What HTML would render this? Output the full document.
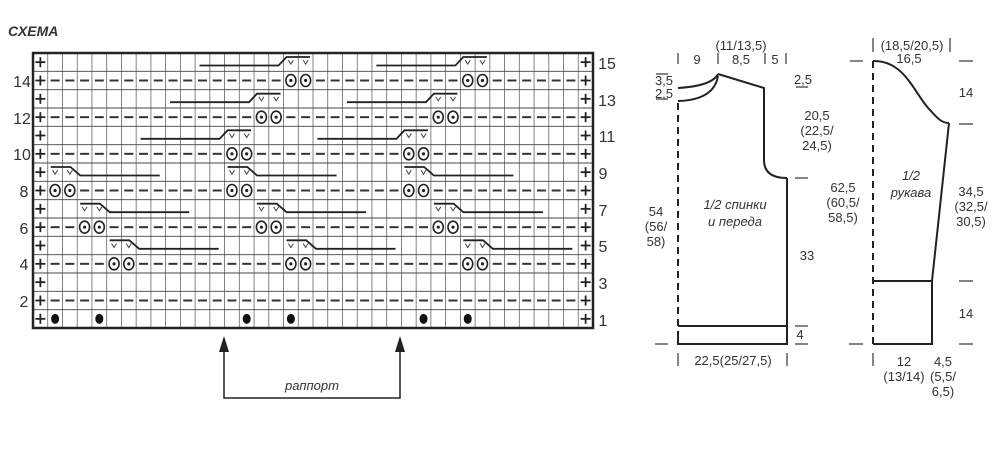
<!DOCTYPE html>
<html><head><meta charset="utf-8"><style>
html,body{margin:0;padding:0;background:#fff;}
body{width:998px;height:445px;overflow:hidden;}
svg text{font-family:"Liberation Sans",sans-serif;fill:#333;}
</style></head><body>
<svg id="s" width="998" height="445" viewBox="0 0 998 445" xmlns="http://www.w3.org/2000/svg">
<g id="chart"></g>
<text x="8" y="36" font-size="14" font-weight="bold" font-style="italic">СХЕМА</text>
<g font-size="16" text-anchor="middle">
<text x="22" y="87">14</text><text x="22" y="124">12</text><text x="22" y="160">10</text>
<text x="24" y="197">8</text><text x="24" y="234">6</text><text x="24" y="270">4</text><text x="24" y="307">2</text>
<text x="607" y="69">15</text><text x="607" y="106">13</text><text x="607" y="142">11</text>
<text x="603" y="179">9</text><text x="603" y="216">7</text><text x="603" y="252">5</text>
<text x="603" y="289">3</text><text x="603" y="326">1</text>
</g>
<!-- rapport arrows -->
<g stroke="#222" stroke-width="1.5" fill="none">
<polyline points="224,346 224,398 400,398 400,346"/>
</g>
<polygon points="224,336 219,352 229,352" fill="#222"/>
<polygon points="400,336 395,352 405,352" fill="#222"/>
<text x="312" y="390" font-size="13" font-style="italic" text-anchor="middle">раппорт</text>

<!-- body piece -->
<g stroke="#222" stroke-width="2" fill="none">
<path d="M678 88 Q712 86 718 74"/>
<path d="M678 101 Q714 100 718 76"/>
<polyline points="718,74 764,88 764,160"/>
<path d="M764 160 Q764 178 787 178"/>
<polyline points="787,178 787,344 678,344 678,338"/>
<line x1="678" y1="326" x2="787" y2="326"/>
</g>
<line x1="678" y1="103" x2="678" y2="344" stroke="#222" stroke-width="2" stroke-dasharray="7,5"/>
<g stroke="#333" stroke-width="1.2">
<line x1="678" y1="53" x2="678" y2="64"/><line x1="718" y1="53" x2="718" y2="64"/>
<line x1="765" y1="53" x2="765" y2="64"/><line x1="786" y1="53" x2="786" y2="64"/>
<line x1="795" y1="178" x2="808" y2="178"/><line x1="795" y1="326" x2="808" y2="326"/>
<line x1="795" y1="344" x2="808" y2="344"/><line x1="655" y1="344" x2="668" y2="344"/>
<line x1="678" y1="353" x2="678" y2="366"/><line x1="787" y1="353" x2="787" y2="366"/>
<line x1="656" y1="74" x2="668" y2="74"/><line x1="656" y1="99" x2="668" y2="99"/>
<line x1="796" y1="87" x2="808" y2="87"/>
</g>
<g font-size="13" text-anchor="middle">
<text x="741" y="50">(11/13,5)</text>
<text x="697" y="64">9</text><text x="741" y="64">8,5</text><text x="775" y="64">5</text>
<text x="664" y="85">3,5</text><text x="664" y="98">2,5</text><text x="803" y="84">2,5</text>
<text x="817" y="120">20,5</text><text x="817" y="135">(22,5/</text><text x="817" y="150">24,5)</text>
<text x="656" y="216">54</text><text x="656" y="231">(56/</text><text x="656" y="246">58)</text>
<text x="807" y="260">33</text><text x="800" y="339">4</text>
<text x="733" y="365">22,5(25/27,5)</text>
<text x="735" y="209" font-style="italic">1/2 спинки</text>
<text x="735" y="226" font-style="italic">и переда</text>
</g>

<!-- sleeve -->
<g stroke="#222" stroke-width="2" fill="none">
<path d="M873 61 C905 60 915 95 930 110 C938 119 942 123 949 123"/>
<polyline points="949,123 932,281 932,344 873,344"/>
<line x1="873" y1="281" x2="932" y2="281"/>
</g>
<line x1="873" y1="61" x2="873" y2="344" stroke="#222" stroke-width="2" stroke-dasharray="7,5"/>
<g stroke="#333" stroke-width="1.2">
<line x1="873" y1="38" x2="873" y2="52"/><line x1="950" y1="38" x2="950" y2="52"/>
<line x1="850" y1="61" x2="863" y2="61"/><line x1="959" y1="61" x2="973" y2="61"/>
<line x1="959" y1="124" x2="973" y2="124"/><line x1="959" y1="281" x2="973" y2="281"/>
<line x1="959" y1="344" x2="973" y2="344"/><line x1="849" y1="344" x2="863" y2="344"/>
<line x1="873" y1="353" x2="873" y2="366"/>
</g>
<g font-size="13" text-anchor="middle">
<text x="912" y="50">(18,5/20,5)</text><text x="909" y="63">16,5</text>
<text x="966" y="97">14</text>
<text x="843" y="192">62,5</text><text x="843" y="207">(60,5/</text><text x="843" y="222">58,5)</text>
<text x="971" y="196">34,5</text><text x="971" y="211">(32,5/</text><text x="971" y="226">30,5)</text>
<text x="966" y="318">14</text>
<text x="904" y="366">12</text><text x="904" y="381">(13/14)</text>
<text x="943" y="366">4,5</text><text x="943" y="381">(5,5/</text><text x="943" y="396">6,5)</text>
<text x="911" y="180" font-style="italic">1/2</text>
<text x="911" y="197" font-style="italic">рукава</text>
</g>
</svg>
<script>
(function(){
var NS="http://www.w3.org/2000/svg",g=document.getElementById("chart");
var x0=33,cw=560/38,y0=53,rh=275/15;
function el(t,a){var e=document.createElementNS(NS,t);for(var k in a)e.setAttribute(k,a[k]);g.appendChild(e);return e;}
function L(x1,y1,x2,y2,w,c){el("line",{x1:x1,y1:y1,x2:x2,y2:y2,stroke:c||"#333","stroke-width":w||1});}
function X(c){return x0+c*cw;}
function T(r){return y0+(15-r)*rh;}
for(var i=1;i<38;i++)L(X(i),y0,X(i),y0+275,0.8,"#666");
for(var j=1;j<15;j++)L(x0,y0+j*rh,x0+560,y0+j*rh,0.9,"#444");
el("rect",{x:x0,y:y0,width:560,height:275,fill:"none",stroke:"#222","stroke-width":2.5});
// plus signs
for(var r=1;r<=15;r++){[0,37].forEach(function(c){var cx=X(c)+cw/2,cy=T(r)+rh/2;L(cx-5,cy,cx+5,cy,1.8,"#222");L(cx,cy-5,cx,cy+5,1.8,"#222");});}
var circ={4:[5,17,29],6:[3,15,27],8:[1,13,25],10:[13,25],12:[15,27],14:[17,29]};
for(var r=2;r<=14;r+=2){var cs=[];(circ[r]||[]).forEach(function(c){cs.push(c,c+1);});
for(var c=1;c<37;c++){var cx=X(c)+cw/2,cy=T(r)+rh/2;
if(cs.indexOf(c)>=0){el("ellipse",{cx:cx,cy:cy,rx:5,ry:6,fill:"none",stroke:"#222","stroke-width":1.6});el("circle",{cx:cx,cy:cy,r:1.6,fill:"#222"});}
else L(cx-4.5,cy,cx+4.5,cy,2,"#333");}}
[1,4,14,17,26,29].forEach(function(c){el("ellipse",{cx:X(c)+cw/2,cy:T(1)+rh/2,rx:4,ry:5,fill:"#111"});});
function vv(c,r){var cx=X(c)+cw/2,ty=T(r)+rh/2-2;el("polyline",{points:(cx-2.5)+","+ty+" "+cx+","+(ty+4)+" "+(cx+2.5)+","+ty,fill:"none",stroke:"#444","stroke-width":1});}
var dr={5:[5,17,29],7:[3,15,27],9:[1,13,25]};
for(var r in dr){dr[r].forEach(function(c){var t=T(+r),u=t+4,lo=t+12.5;vv(c,+r);vv(c+1,+r);
el("polyline",{points:(X(c)+3)+","+u+" "+(X(c+1)+8)+","+u+" "+(X(c+2)+3)+","+lo+" "+X(c+7.6)+","+lo,fill:"none",stroke:"#222","stroke-width":1.8});});}
var ul={11:[13,25],13:[15,27],15:[17,29]};
for(var r in ul){ul[r].forEach(function(c){var t=T(+r),u=t+4,lo=t+12.5;vv(c,+r);vv(c+1,+r);
el("polyline",{points:X(c-5.7)+","+lo+" "+(X(c)-5)+","+lo+" "+(X(c)+3)+","+u+" "+(X(c+2)-3)+","+u,fill:"none",stroke:"#222","stroke-width":1.8});});}
})();
</script>
</body></html>
